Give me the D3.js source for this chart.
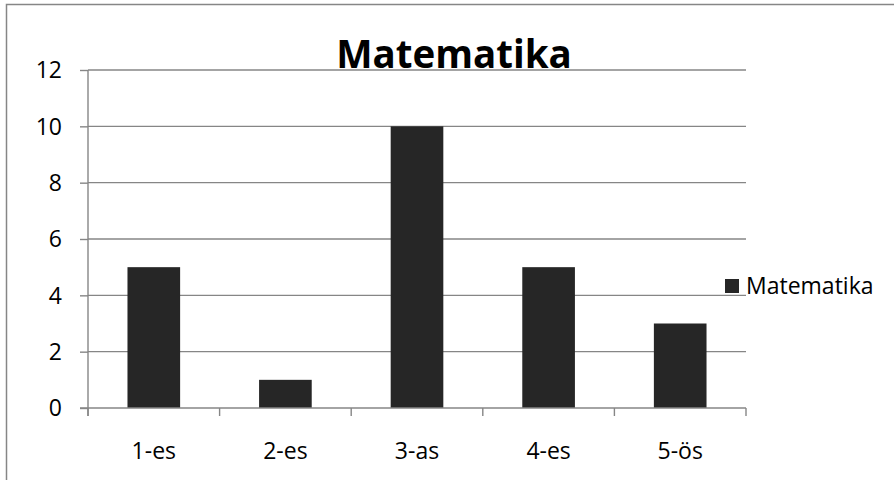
<!DOCTYPE html>
<html>
<head>
<meta charset="utf-8">
<script src="https://cdn.jsdelivr.net/npm/d3@7"></script>
<style>
  html, body { margin: 0; padding: 0; background: #fff; }
  svg { display: block; }
  text { font-family: "Open Sans", Lato, sans-serif; fill: #000; }
</style>
</head>
<body>
<svg id="chart" width="894" height="480"></svg>
<script>
const categories = ["1-es", "2-es", "3-as", "4-es", "5-ös"];
const values = [5, 1, 10, 5, 3];
const seriesName = "Matematika";
const titleText = "Matematika";
const yTicks = [0, 2, 4, 6, 8, 10, 12];

const svg = d3.select("#chart");
const plot = { left: 88, right: 746, top: 70, bottom: 408 };
const axisColor = "#868686";
const barColor = "#262626";
const labelFont = 23;

// outer chart border (extends beyond the visible frame)
svg.append("rect")
  .attr("x", 6.5).attr("y", 4.5)
  .attr("width", 920).attr("height", 520)
  .attr("fill", "#fff")
  .attr("stroke", "#868686").attr("stroke-width", 1.5);

const x = d3.scaleBand().domain(categories).range([plot.left, plot.right]).padding(0);
const y = d3.scaleLinear().domain([0, 12]).range([plot.bottom, plot.top]);

// gridlines
svg.append("g").selectAll("line").data(yTicks.filter(d => d > 0)).join("line")
  .attr("x1", plot.left).attr("x2", plot.right)
  .attr("y1", d => y(d)).attr("y2", d => y(d))
  .attr("stroke", axisColor).attr("stroke-width", 1.4);

// bars
const barW = x.bandwidth() / 2.5;
svg.append("g").selectAll("rect").data(values).join("rect")
  .attr("x", (d, i) => x(categories[i]) + (x.bandwidth() - barW) / 2)
  .attr("y", d => y(d))
  .attr("width", barW)
  .attr("height", d => y(0) - y(d))
  .attr("fill", barColor);

// y axis
const yAxis = d3.axisLeft(y).tickValues(yTicks).tickSize(8).tickPadding(18).tickFormat(d3.format("d"));
const gy = svg.append("g").attr("transform", `translate(${plot.left},0)`).call(yAxis);
gy.select(".domain").attr("stroke", axisColor).attr("stroke-width", 1.4)
  .attr("d", `M0,${plot.top}V${plot.bottom + 8}`);
gy.selectAll(".tick line").attr("stroke", axisColor).attr("stroke-width", 1.4);
gy.selectAll(".tick text").attr("font-size", labelFont).attr("font-family", "'Open Sans', Lato, sans-serif").attr("fill", "#000").attr("dy", "0.34em");

// x axis: ticks at category boundaries
const gx = svg.append("g").attr("transform", `translate(0,${plot.bottom})`);
gx.append("line").attr("x1", plot.left - 8).attr("x2", plot.right)
  .attr("y1", 0).attr("y2", 0).attr("stroke", axisColor).attr("stroke-width", 1.4);
const boundaries = categories.map(c => x(c)).concat([x(categories[categories.length - 1]) + x.bandwidth()]);
gx.selectAll("line.tk").data(boundaries).join("line").attr("class", "tk")
  .attr("x1", d => d).attr("x2", d => d).attr("y1", 0).attr("y2", 8)
  .attr("stroke", axisColor).attr("stroke-width", 1.4);
gx.selectAll("text").data(categories).join("text")
  .attr("x", d => x(d) + x.bandwidth() / 2)
  .attr("y", 51)
  .attr("text-anchor", "middle")
  .attr("font-size", labelFont)
  .text(d => d);

// title
svg.append("text")
  .attr("x", 454).attr("y", 68)
  .attr("text-anchor", "middle")
  .attr("font-size", 38.5).attr("font-weight", "bold")
  .text(titleText);

// legend
const lg = svg.append("g");
lg.append("rect").attr("x", 725).attr("y", 279).attr("width", 14).attr("height", 14).attr("fill", barColor);
lg.append("text").attr("x", 746).attr("y", 294).attr("font-size", labelFont).text(seriesName);
</script>
</body>
</html>
